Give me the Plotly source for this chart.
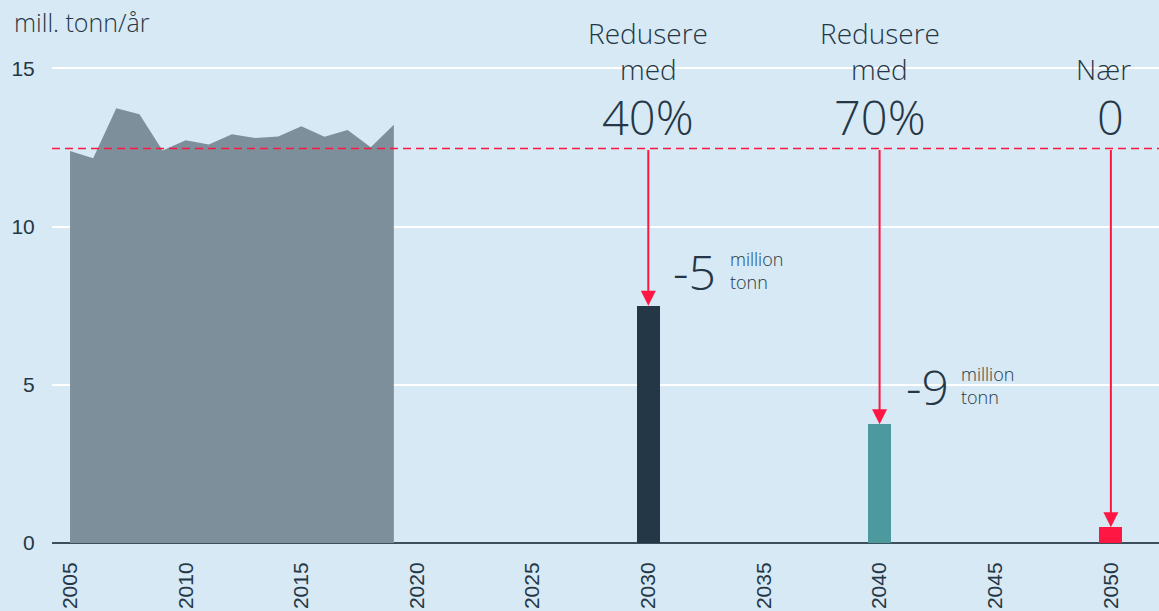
import plotly.graph_objects as go

# Historical emissions (mill. tonn/år)
hist_years = list(range(2005, 2020))
hist_values = [12.39, 12.16, 13.74, 13.55, 12.40, 12.73, 12.59, 12.92, 12.80, 12.85, 13.17, 12.84, 13.05, 12.51, 13.22]

# Targets
target_years = [2030, 2040, 2050]
target_values = [7.5, 3.75, 0.5]
target_colors = ["#243746", "#4d9a9e", "#ff1744"]

baseline = 12.47

head_lines1 = ["Redusere", "Redusere", "Nær"]
head_lines2 = ["med", "med", ""]
head_big = ["40%", "70%", "0"]

diff_labels = ["-5", "-9"]
diff_years = [2031.0, 2041.05]
diff_y = [8.57, 4.94]
unit_years = [2033.45, 2043.43]

x_ticks = [2005, 2010, 2015, 2020, 2025, 2030, 2035, 2040, 2045, 2050]
y_ticks = [0, 5, 10, 15]

DARK = "#253746"
RED = "#ff1744"
BG = "#d6e9f4"
TFONT = "Open Sans"

fig = go.Figure()
fig.add_trace(go.Scatter(x=hist_years, y=hist_values, mode="lines", fill="tozeroy",
                         line=dict(width=0, color="#7d8f9b"), fillcolor="#7d8f9b",
                         hoverinfo="skip", showlegend=False))
fig.add_trace(go.Bar(x=target_years, y=target_values, width=1,
                     marker=dict(color=target_colors, line=dict(width=0)), showlegend=False))

fig.add_shape(type="line", xref="paper", x0=0, x1=1, yref="y", y0=baseline, y1=baseline,
              line=dict(color=RED, width=1.5, dash="8px,5px"))

ann = []
for yr, val in zip(target_years, target_values):
    ann.append(dict(x=yr, y=val, ax=yr, ay=baseline, xref="x", yref="y", axref="x", ayref="y",
                    text="", showarrow=True, arrowhead=2, arrowsize=1.5, arrowwidth=2,
                    arrowcolor=RED, standoff=0, startstandoff=0))
for yr, l1, l2, big in zip(target_years, head_lines1, head_lines2, head_big):
    if l2:
        ann.append(dict(x=yr, y=16.11, xref="x", yref="y", text=l1, showarrow=False,
                        font=dict(family=TFONT, size=28, color=DARK, weight=300)))
        ann.append(dict(x=yr, y=14.97, xref="x", yref="y", text=l2, showarrow=False,
                        font=dict(family=TFONT, size=28, color=DARK, weight=300)))
    else:
        ann.append(dict(x=yr - 0.3, y=14.97, xref="x", yref="y", text=l1, showarrow=False,
                        font=dict(family=TFONT, size=28, color=DARK, weight=300)))
    ann.append(dict(x=yr, y=13.45, xref="x", yref="y", text=big, showarrow=False,
                    font=dict(family=TFONT, size=47, color=DARK, weight=300)))
for lab, xd, yd, xu in zip(diff_labels, diff_years, diff_y, unit_years):
    ann.append(dict(x=xd, y=yd, xref="x", yref="y", text=lab, showarrow=False, xanchor="left",
                    font=dict(family=TFONT, size=48, color=DARK, weight=300)))
    ann.append(dict(x=xu, y=yd + 0.05, xref="x", yref="y", text="million<br>tonn", showarrow=False,
                    xanchor="left", align="left",
                    font=dict(family=TFONT, size=18, color=DARK, weight=300)))
ann.append(dict(x=-0.036, y=0.9595, xref="paper", yref="paper", text="mill. tonn/år",
                showarrow=False, xanchor="left", yanchor="middle",
                font=dict(family=TFONT, size=25, color=DARK, weight=300)))

fig.update_layout(
    width=1159, height=611,
    margin=dict(l=52, r=0, t=0, b=68),
    paper_bgcolor=BG, plot_bgcolor=BG,
    annotations=ann,
    bargap=0,
    xaxis=dict(range=[2004.22, 2052.08], tickvals=x_ticks, tickangle=-90,
               showgrid=False, zeroline=False,
               showline=False, ticks="outside", ticklen=10, tickcolor="rgba(0,0,0,0)",
               tickfont=dict(family="Liberation Sans", size=21, color=DARK)),
    yaxis=dict(range=[0, 17.16], tickvals=y_ticks, showgrid=True, gridcolor="white", gridwidth=1.5,
               zeroline=True, zerolinecolor="#3d4f5c", zerolinewidth=1.5,
               ticks="outside", ticklen=12, tickcolor="rgba(0,0,0,0)",
               tickfont=dict(family="Liberation Sans", size=21, color=DARK)),
)

fig.write_html("out.html")
